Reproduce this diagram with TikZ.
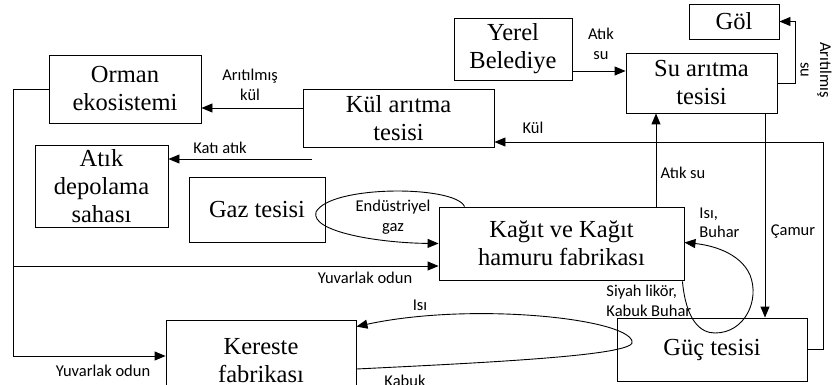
\documentclass[tikz,border=0pt]{standalone}
\usepackage{fontspec}
\setmainfont{Liberation Serif}
\newfontfamily\lblfont{Carlito}
\usetikzlibrary{arrows.meta}
\begin{document}
\begin{tikzpicture}[x=1pt,y=-1pt,line width=0.9pt,
  box/.style={draw,inner sep=0pt,align=center,
    font=\fontsize{24.5}{28}\selectfont},
  lbl/.style={inner sep=0pt,align=center,
    font=\lblfont\fontsize{16.5}{19.5}\selectfont},
  arr/.style={-{Triangle[length=11pt,width=9pt]}}]
\useasboundingbox (0,0) rectangle (832,385);

% facilities
\node[box,minimum width=152pt,minimum height=68pt] (orman) at (125,89) {Orman\\ekosistemi};
\node[box,minimum width=191pt,minimum height=58pt] (kul) at (398.5,118) {Kül arıtma\\tesisi};
\node[box,minimum width=133pt,minimum height=82pt] (atik) at (101.5,186) {Atık\\depolama\\sahası};
\node[box,minimum width=136pt,minimum height=65pt] (gaz) at (257,209.5) {Gaz tesisi};
\node[box,minimum width=118pt,minimum height=62pt] (yerel) at (513,49) {Yerel\\Belediye};
\node[box,minimum width=151pt,minimum height=60pt] (su) at (701.5,83) {Su arıtma\\tesisi};
\node[box,minimum width=90pt,minimum height=35pt] (gol) at (734,21.5) {Göl};
\node[box,minimum width=245pt,minimum height=73pt] (kagit) at (561.5,243.5) {Kağıt ve Kağıt\\hamuru fabrikası};
\node[box,minimum width=190pt,minimum height=63pt] (guc) at (712,349.5) {Güç tesisi};
\node[box,minimum width=190pt,minimum height=82pt] (kereste) at (261,361) {Kereste\\fabrikası};

% ash treatment -> forest
\coordinate (k1) at ([yshift=10pt]kul.west);
\draw[arr] (k1) -- (orman.east |- k1);
\node[lbl] (lkul) at (250,85) {Arıtılmış\\kül};

% solid waste -> landfill
\coordinate (ka) at (312,159);
\draw[arr] (ka) -- (atik.east |- ka);
\node[lbl] (lkati) at (220,148) {Katı atık};

% municipality -> water treatment
\coordinate (y1) at ([yshift=-22pt]yerel.east);
\draw[arr] (y1) -- (su.west |- y1);
\node[lbl] (latik) at (601,44) {Atık\\su};

% water treatment -> lake
\draw[arr] (su.east) -- ++(18,0) |- (gol.east);
\node[lbl,rotate=-90] (lari) at (816,70) {Arıtılmış\\su};

% ash from power plant
\coordinate (k2) at ([yshift=-24pt]kul.east);
\draw[arr] (guc.east) -- ++(16,0) |- (k2);
\node[lbl] (lk) at (533,128) {Kül};

% waste water from the mill
\coordinate (a1) at ([xshift=94.5pt]kagit.north);
\draw[arr] (a1) -- (su.south -| a1);
\node[lbl] (las) at (683,173) {Atık su};

% sludge
\coordinate (c1) at ([xshift=63.5pt]su.south);
\draw[arr] (c1) -- (guc.north -| c1);
\node[lbl] (lcam) at (793,232) {Çamur};

% round wood
\coordinate (lx) at (13,89);
\coordinate (kr) at ([yshift=5pt]kereste.west);
\draw[arr] (orman.west) -- (lx) |- (kr);
\coordinate (j) at (13,266);
\draw[arr] (j) -- (kagit.west |- j);
\node[lbl] (ly1) at (365,278) {Yuvarlak odun};
\node[lbl] (ly2) at (103,371) {Yuvarlak odun};

% industrial gas loop
\coordinate (g0) at ([xshift=26pt]kagit.north west);
\draw[arr] (g0) .. controls (455,185) and (330,185) .. (316,212)
  .. controls (310,232) and (380,243) .. (kagit.west);
\node[lbl] (lgaz) at (393,217) {Endüstriyel\\gaz};

% heat / steam loop
\coordinate (h0) at ([xshift=-2pt,yshift=-1pt]kagit.south east);
\coordinate (h1) at ([yshift=1pt]kagit.east);
\draw[arr] (h0) .. controls (686,320) and (700,333) .. (715,333)
  .. controls (745,333) and (760,300) .. (750,275)
  .. controls (740,252) and (710,245) .. (h1);
\node[lbl,align=left,anchor=west] (lisi) at (699,223) {Isı,\\Buhar};
\node[lbl,align=left,anchor=west] (lsiy) at (606,301) {Siyah likör,\\Kabuk Buhar};

% sawmill loop
\coordinate (s0) at ([yshift=-8pt]kereste.east);
\coordinate (s1) at ([yshift=-7pt]kereste.north east);
\draw[arr] (s0) .. controls (500,362) and (640,355) .. (632,341)
  .. controls (625,318) and (470,302) .. (s1);
\node[lbl] (lisi2) at (420,305) {Isı};
\node[lbl] (lkab) at (405,381) {Kabuk};
\end{tikzpicture}
\end{document}
